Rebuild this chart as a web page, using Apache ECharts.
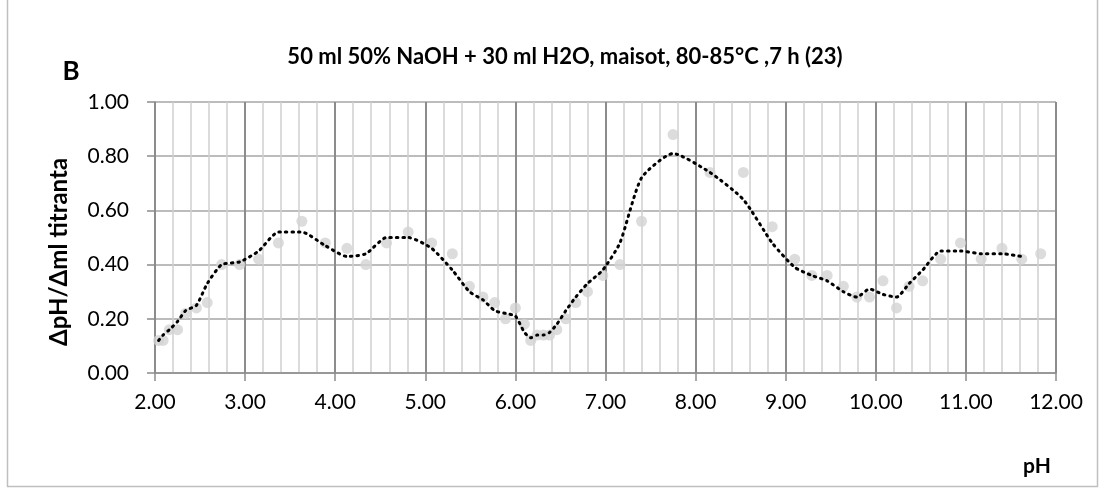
<!DOCTYPE html>
<html>
<head>
<meta charset="utf-8">
<script src="https://cdn.jsdelivr.net/npm/echarts@6/dist/echarts.min.js"></script>
<style>
  html, body { margin: 0; padding: 0; background: #fff; }
  #main { width: 1102px; height: 488px; }
</style>
</head>
<body>
<div id="main"></div>
<script>
// measured points (pH, dpH/dml)
const phValues = [2.04, 2.09, 2.16, 2.25, 2.34, 2.46, 2.58, 2.74, 2.94, 3.15, 3.37, 3.63, 3.89, 4.13, 4.34, 4.57, 4.81, 5.07, 5.30, 5.49, 5.64, 5.77, 5.89, 6.00, 6.10, 6.17, 6.24, 6.31, 6.38, 6.46, 6.56, 6.67, 6.80, 6.97, 7.16, 7.40, 7.75, 8.16, 8.53, 8.85, 9.10, 9.29, 9.46, 9.64, 9.79, 9.93, 10.08, 10.23, 10.37, 10.52, 10.72, 10.94, 11.17, 11.40, 11.62, 11.83]
const dphValues = [0.12, 0.12, 0.16, 0.16, 0.22, 0.24, 0.26, 0.40, 0.40, 0.42, 0.48, 0.56, 0.48, 0.46, 0.40, 0.48, 0.52, 0.48, 0.44, 0.32, 0.28, 0.26, 0.20, 0.24, 0.18, 0.12, 0.14, 0.14, 0.14, 0.16, 0.20, 0.26, 0.30, 0.36, 0.40, 0.56, 0.88, 0.74, 0.74, 0.54, 0.42, 0.36, 0.36, 0.32, 0.28, 0.28, 0.34, 0.24, 0.32, 0.34, 0.42, 0.48, 0.42, 0.46, 0.42, 0.44]
// dotted trend line (one value per point, last one has none)
const trendValues = [0.12, 0.14, 0.16, 0.19, 0.23, 0.25, 0.33, 0.40, 0.41, 0.45, 0.52, 0.52, 0.47, 0.43, 0.44, 0.50, 0.50, 0.46, 0.38, 0.30, 0.27, 0.23, 0.22, 0.21, 0.15, 0.13, 0.14, 0.14, 0.15, 0.18, 0.23, 0.28, 0.33, 0.38, 0.48, 0.72, 0.81, 0.74, 0.64, 0.48, 0.39, 0.36, 0.34, 0.30, 0.28, 0.31, 0.29, 0.28, 0.33, 0.38, 0.45, 0.45, 0.44, 0.44, 0.43]

const titleText = '50 ml 50% NaOH + 30 ml H2O, maisot, 80-85°C ,7 h (23)'
const font = 'Lato, "Open Sans", sans-serif'

let points = phValues.map(function (x, i) { return [x, dphValues[i]] })
let trend = trendValues.map(function (y, i) { return [phValues[i], y] })

let myChart = echarts.init(document.getElementById('main'))
myChart.setOption({
  animation: false,
  backgroundColor: '#fff',
  grid: { left: 155, right: 46, top: 102, bottom: 115 },
  xAxis: {
    type: 'value',
    min: 2,
    max: 12,
    interval: 1,
    axisLine: { show: true, lineStyle: { color: '#8c8c8c', width: 1.5 } },
    axisTick: { show: true, length: 8, lineStyle: { color: '#8c8c8c', width: 1.5 } },
    axisLabel: {
      margin: 19,
      color: '#000',
      fontFamily: font,
      fontSize: 21,
      formatter: function (v) { return v.toFixed(2) }
    },
    splitLine: { show: true, lineStyle: { color: '#8c8c8c', width: 2 } },
    minorTick: { show: false, splitNumber: 5 },
    minorSplitLine: { show: true, lineStyle: { color: '#d0d0d0', width: 1.5 } }
  },
  yAxis: {
    type: 'value',
    min: 0,
    max: 1,
    interval: 0.2,
    axisLine: { show: true, lineStyle: { color: '#8c8c8c', width: 1.5 } },
    axisTick: { show: true, length: 8, lineStyle: { color: '#8c8c8c', width: 1.5 } },
    axisLabel: {
      margin: 26,
      color: '#000',
      fontFamily: font,
      fontSize: 21,
      formatter: function (v) { return v.toFixed(2) }
    },
    splitLine: { show: true, lineStyle: { color: '#a6a6a6', width: 1.5 } }
  },
  series: [
    {
      type: 'scatter',
      data: points,
      symbolSize: 11,
      itemStyle: { color: '#d3d3d3' },
      z: 2
    },
    {
      type: 'line',
      data: trend,
      smooth: 0.2,
      symbol: 'none',
      lineStyle: { color: '#000', width: 3, type: [1.5, 5], cap: 'round' },
      z: 3
    }
  ],
  graphic: [
    {
      type: 'rect',
      shape: { x: 7.5, y: -2, width: 1090, height: 488.5 },
      style: { fill: 'none', stroke: '#bfbfbf', lineWidth: 1.5 },
      silent: true
    },
    {
      type: 'text',
      x: 565, y: 57,
      style: { text: titleText, font: 'bold 22px ' + font, fill: '#000', textAlign: 'center', textVerticalAlign: 'middle' }
    },
    {
      type: 'text',
      x: 71, y: 72,
      style: { text: 'B', font: 'bold 26px ' + font, fill: '#000', textAlign: 'center', textVerticalAlign: 'middle' }
    },
    {
      type: 'text',
      x: 59, y: 252,
      rotation: Math.PI / 2,
      style: { text: 'ΔpH/Δml titranta', font: 'bold 24px ' + font, fill: '#000', textAlign: 'center', textVerticalAlign: 'middle' }
    },
    {
      type: 'text',
      x: 1037, y: 466,
      style: { text: 'pH', font: 'bold 21px ' + font, fill: '#000', textAlign: 'center', textVerticalAlign: 'middle' }
    }
  ]
})
</script>
</body>
</html>
